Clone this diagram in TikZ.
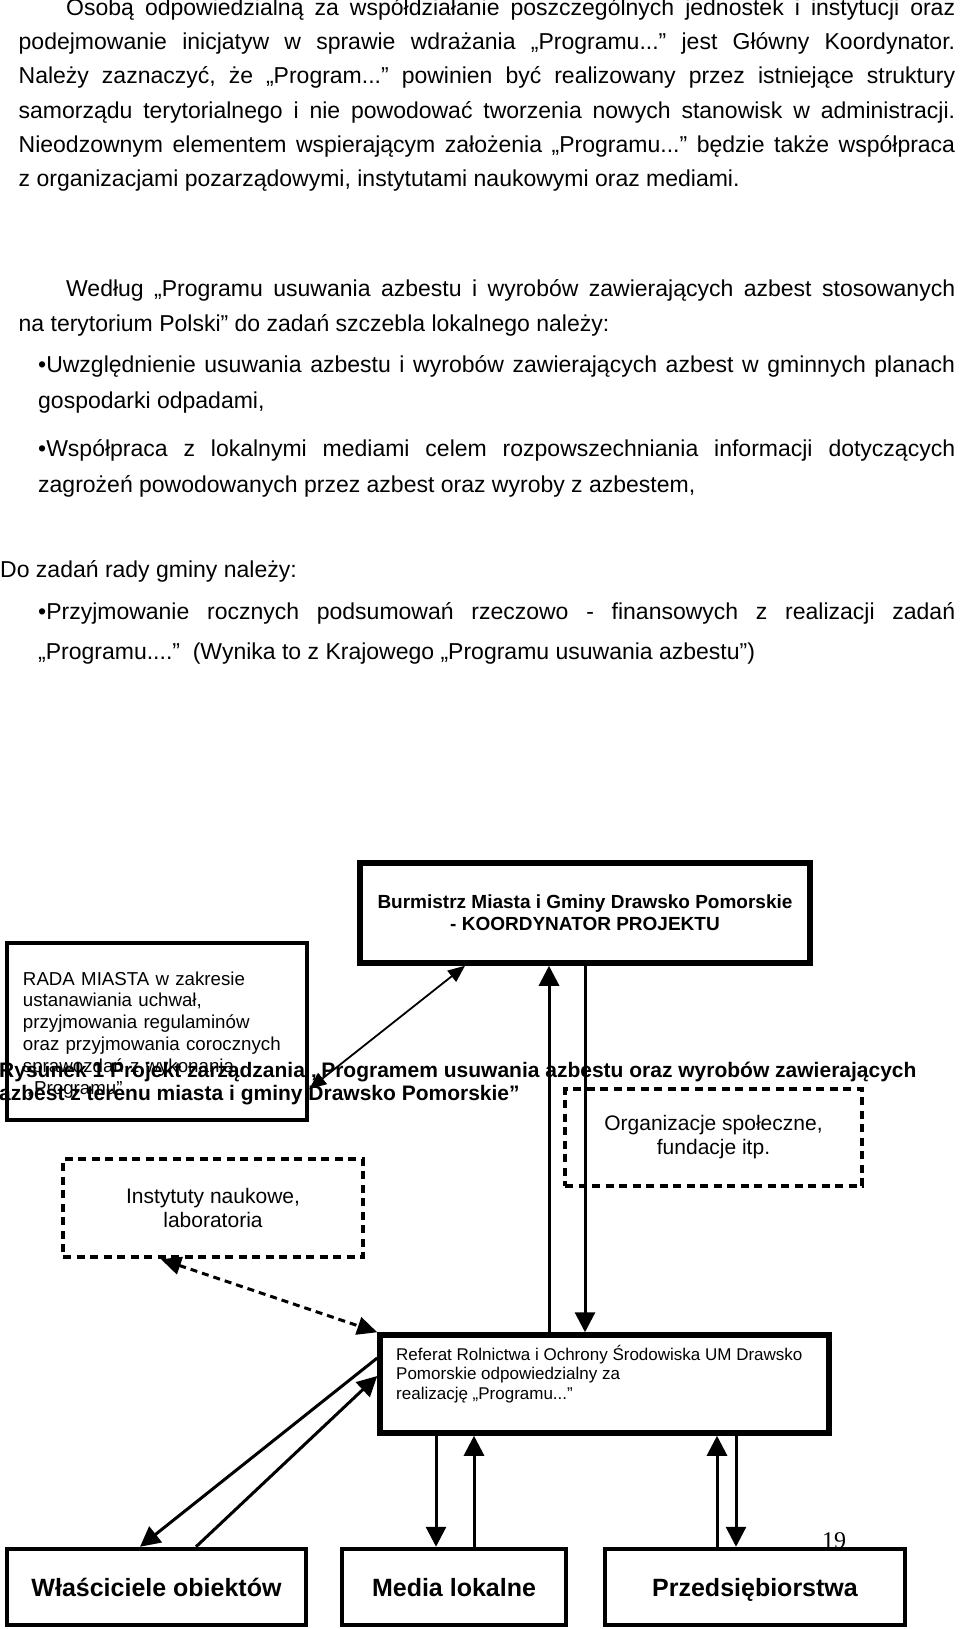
\documentclass[tikz,border=0pt]{standalone}
\usepackage{fontspec}
\setmainfont{Liberation Sans}
\newfontfamily\fPageNum{Liberation Serif}
\usetikzlibrary{arrows.meta,calc}
\frenchspacing
\newcommand\fBody{\fontsize{23}{28}\selectfont}
\newcommand\fRada{\fontsize{18.7}{21.8}\selectfont}
\newcommand\fBurm{\bfseries\fontsize{19}{22}\selectfont}
\newcommand\fCap{\bfseries\fontsize{21}{23}\selectfont}
\newcommand\fMid{\fontsize{21}{24}\selectfont}
\newcommand\fRef{\fontsize{17}{19.5}\selectfont}
\newcommand\fBot{\bfseries\fontsize{25}{28}\selectfont}
\newcommand\justline[2]{\makebox[#1][s]{#2}}
\begin{document}
\begin{tikzpicture}[x=1pt,y=-1pt,
  bodyline/.style={anchor=mid west, inner sep=0pt, font=\fBody},
  solidbox/.style={draw, rectangle, inner sep=0pt},
  botbox/.style={draw, rectangle, inner sep=0pt, line width=4.5pt, minimum height=76pt, text height=21pt, text depth=3pt, font=\fBot},
  dashbox/.style={draw, rectangle, inner sep=0pt, line width=4.5pt, dash pattern=on 8pt off 5.5pt},
  conn/.style={line width=3pt, -{Triangle[length=20pt,width=20pt]}},
  thinconn/.style={line width=1.8pt, {Triangle[length=17pt,width=14pt]}-{Triangle[length=17pt,width=14pt]}},
  dashconn/.style={line width=3pt, dash pattern=on 7pt off 5pt, {Triangle[length=20pt,width=18pt]}-{Triangle[length=20pt,width=18pt]}}
]
\useasboundingbox (0,0) rectangle (960,1629);

% ---------- body text ----------
\node[bodyline] (t1) at (66,12.5) {\justline{889pt}{Osobą odpowiedzialną za współdziałanie poszczególnych jednostek i instytucji oraz}};
\node[bodyline] (t2) at (18.5,47) {\justline{936.5pt}{podejmowanie inicjatyw w sprawie wdrażania „Programu...” jest Główny Koordynator.}};
\node[bodyline] (t3) at (18.5,81) {\justline{936.5pt}{Należy zaznaczyć, że „Program...” powinien być realizowany przez istniejące struktury}};
\node[bodyline] (t4) at (18.5,115.5) {\justline{936.5pt}{samorządu terytorialnego i nie powodować tworzenia nowych stanowisk w administracji.}};
\node[bodyline] (t5) at (18.5,150) {\justline{936.5pt}{Nieodzownym elementem wspierającym założenia „Programu...” będzie także współpraca}};
\node[bodyline] (t6) at (18.5,184) {z organizacjami pozarządowymi, instytutami naukowymi oraz mediami.};

\node[bodyline] (t7) at (66,294) {\justline{889pt}{Według „Programu usuwania azbestu i wyrobów zawierających azbest stosowanych}};
\node[bodyline] (t8) at (18.5,328.5) {na terytorium Polski” do zadań szczebla lokalnego należy:};
\node[bodyline] (t9) at (38,370) {\justline{917pt}{•Uwzględnienie usuwania azbestu i wyrobów zawierających azbest w gminnych planach}};
\node[bodyline] (t10) at (38,406) {gospodarki odpadami,};
\node[bodyline] (t11) at (38,454) {\justline{917pt}{•Współpraca z lokalnymi mediami celem rozpowszechniania informacji dotyczących}};
\node[bodyline] (t12) at (38,490) {zagrożeń powodowanych przez azbest oraz wyroby z azbestem,};
\node[bodyline] (t13) at (0,575) {Do zadań rady gminy należy:};
\node[bodyline] (t14) at (38,617) {\justline{917pt}{•Przyjmowanie rocznych podsumowań rzeczowo - finansowych z realizacji zadań}};
\node[bodyline] (t15) at (38,657) {„Programu....”\ \ (Wynika to z Krajowego „Programu usuwania azbestu”)};

% ---------- diagram boxes ----------
\node[solidbox, line width=5.5pt, minimum width=450pt, minimum height=100pt, align=center, font=\fBurm] (burm) at (585,913)
  {Burmistrz Miasta i Gminy Drawsko Pomorskie\\- KOORDYNATOR PROJEKTU};

\node[solidbox, line width=4.5pt, minimum width=300pt, minimum height=177pt, text width=268pt, inner xsep=16pt, align=left, font=\fRada] (rada) at (157,1031.5)
  {\rule{0pt}{20pt}RADA MIASTA w zakresie\\ustanawiania uchwał,\\przyjmowania regulaminów\\oraz przyjmowania corocznych\\sprawozdań z wykonania\\\hspace*{5pt}„Programu”};

\node[dashbox, minimum width=297pt, minimum height=97pt, align=center, font=\fMid] (org) at (713.5,1137.5)
  {Organizacje społeczne,\\fundacje itp.};

\node[dashbox, minimum width=300pt, minimum height=98pt, align=center, font=\fMid] (inst) at (213,1208)
  {Instytuty naukowe,\\laboratoria};

\node[solidbox, line width=5.5pt, minimum width=449pt, minimum height=98pt] (ref) at (604.5,1384) {};
\node[anchor=north west, inner sep=0pt, align=left, font=\fRef] (reftext) at (396,1345)
  {Referat Rolnictwa i Ochrony Środowiska UM Drawsko\\Pomorskie odpowiedzialny za\\realizację „Programu...”};

\node[botbox, minimum width=299pt] (wlasc) at (156.5,1587) {Właściciele obiektów};
\node[botbox, minimum width=224pt] (media) at (454,1587) {Media lokalne};
\node[botbox, minimum width=300pt] (przeds) at (755,1587) {Przedsiębiorstwa};

\node[anchor=base, inner sep=0pt, font=\fPageNum\fontsize{24}{28}\selectfont] (pnum) at (834,1548) {19};

% ---------- helper coordinates ----------
\coordinate (xa) at (549,0);
\coordinate (xb) at (585,0);
\coordinate (xd) at (465,0);
\coordinate (yd) at (0,1089);
\coordinate (xi) at (161,0);
\coordinate (yw1) at (0,1358);
\coordinate (yw2) at (0,1376);
\coordinate (xw1) at (140,0);
\coordinate (xw2) at (196,0);
\coordinate (xm1) at (436,0);
\coordinate (xm2) at (474,0);
\coordinate (xp1) at (717,0);
\coordinate (xp2) at (736,0);

% ---------- connectors ----------
\draw[conn] (ref.north -| xa) -- (burm.south -| xa);
\draw[conn] (burm.south -| xb) -- (ref.north -| xb);
\draw[thinconn] (rada.east |- yd) -- (burm.south -| xd);
\draw[dashconn] (inst.south -| xi) -- (ref.north west);
\draw[conn] (ref.west |- yw1) -- (wlasc.north -| xw1);
\draw[conn] (wlasc.north -| xw2) -- (ref.west |- yw2);
\draw[conn] (ref.south -| xm1) -- (media.north -| xm1);
\draw[conn] (media.north -| xm2) -- (ref.south -| xm2);
\draw[conn] (przeds.north -| xp1) -- (ref.south -| xp1);
\draw[conn] (ref.south -| xp2) -- (przeds.north -| xp2);

% ---------- caption (overlapping) ----------
\node[anchor=base west, inner sep=0pt, font=\fCap] (cap1) at (-1,1077) {Rysunek 1 Projekt zarządzania „Programem usuwania azbestu oraz wyrobów zawierających};
\node[anchor=base west, inner sep=0pt, font=\fCap] (cap2) at (-1,1100) {azbest z terenu miasta i gminy Drawsko Pomorskie”};
\end{tikzpicture}
\end{document}
